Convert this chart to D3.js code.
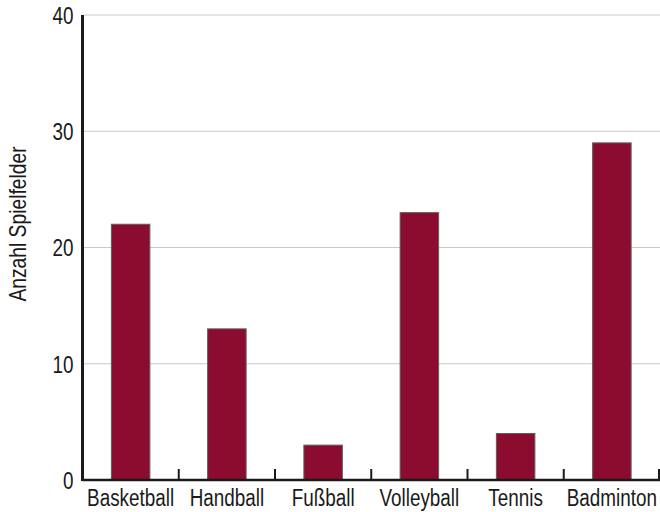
<!DOCTYPE html>
<html>
<head>
<meta charset="utf-8">
<script src="https://cdn.jsdelivr.net/npm/d3@7/dist/d3.min.js"></script>
<style>
  html, body { margin: 0; padding: 0; background: #fff; }
  svg text {
    font-family: "Liberation Sans", Arial, sans-serif;
    fill: #1a1a1a;
  }
</style>
</head>
<body>
<svg id="chart" width="660" height="512"></svg>
<script>
// Number of courts per sport
const categories = ["Basketball", "Handball", "Fußball", "Volleyball", "Tennis", "Badminton"];
const courts = [22, 13, 3, 23, 4, 29];
const yTicks = [0, 10, 20, 30, 40];
const yTitle = "Anzahl Spielfelder";

const svg = d3.select("#chart");
const plotLeft = 82.5, plotRight = 660, plotTop = 15, plotBottom = 480;
const narrow = 0.77;      // horizontal squeeze for the condensed labels
const titleNarrow = 0.82;

const x = d3.scaleBand().domain(categories).range([plotLeft, plotRight]).paddingInner(0).paddingOuter(0);
const y = d3.scaleLinear().domain([0, 40]).range([plotBottom, plotTop]);

// horizontal grid lines
svg.append("g")
  .selectAll("line")
  .data(yTicks.filter(d => d > 0))
  .join("line")
  .attr("x1", plotLeft + 1.5)
  .attr("x2", plotRight)
  .attr("y1", d => y(d))
  .attr("y2", d => y(d))
  .attr("stroke", "#c8c8c8")
  .attr("stroke-width", 1);

// bars
const bw = x.bandwidth();
svg.append("g")
  .selectAll("rect")
  .data(categories.map((c, i) => ({ c, v: courts[i] })))
  .join("rect")
  .attr("x", d => x(d.c) + bw * 0.3)
  .attr("width", bw * 0.4)
  .attr("y", d => y(d.v))
  .attr("height", d => y(0) - y(d.v))
  .attr("fill", "#8c0c2f")
  .attr("stroke", "#5e5e5e")
  .attr("stroke-width", 1);

// y axis labels
svg.append("g")
  .selectAll("text")
  .data(yTicks)
  .join("text")
  .attr("transform", d => `translate(${plotLeft - 9}, ${y(d)}) scale(${narrow}, 1)`)
  .attr("dy", "0.36em")
  .attr("text-anchor", "end")
  .attr("font-size", 24.5)
  .text(d => d);

// category separator ticks on the x axis
svg.append("g")
  .selectAll("line")
  .data(categories)
  .join("line")
  .attr("x1", d => Math.min(x(d) + bw, plotRight - 1))
  .attr("x2", d => Math.min(x(d) + bw, plotRight - 1))
  .attr("y1", plotBottom - 11)
  .attr("y2", plotBottom)
  .attr("stroke", "#1a1a1a")
  .attr("stroke-width", 2);

// category labels
svg.append("g")
  .selectAll("text")
  .data(categories)
  .join("text")
  .attr("transform", d => `translate(${x(d) + bw / 2}, ${plotBottom + 25.5}) scale(${narrow}, 1)`)
  .attr("text-anchor", "middle")
  .attr("font-size", 24.5)
  .text(d => d);

// axis lines
svg.append("line")
  .attr("x1", plotLeft).attr("x2", plotLeft)
  .attr("y1", plotTop).attr("y2", plotBottom + 1)
  .attr("stroke", "#1a1a1a").attr("stroke-width", 3);
svg.append("line")
  .attr("x1", plotLeft).attr("x2", plotRight)
  .attr("y1", plotBottom).attr("y2", plotBottom)
  .attr("stroke", "#1a1a1a").attr("stroke-width", 2.5);

// y axis title
svg.append("text")
  .attr("transform", `translate(26, ${(145 + 303) / 2}) rotate(-90) scale(${titleNarrow}, 1)`)
  .attr("text-anchor", "middle")
  .attr("font-size", 23.5)
  .text(yTitle);
</script>
</body>
</html>
